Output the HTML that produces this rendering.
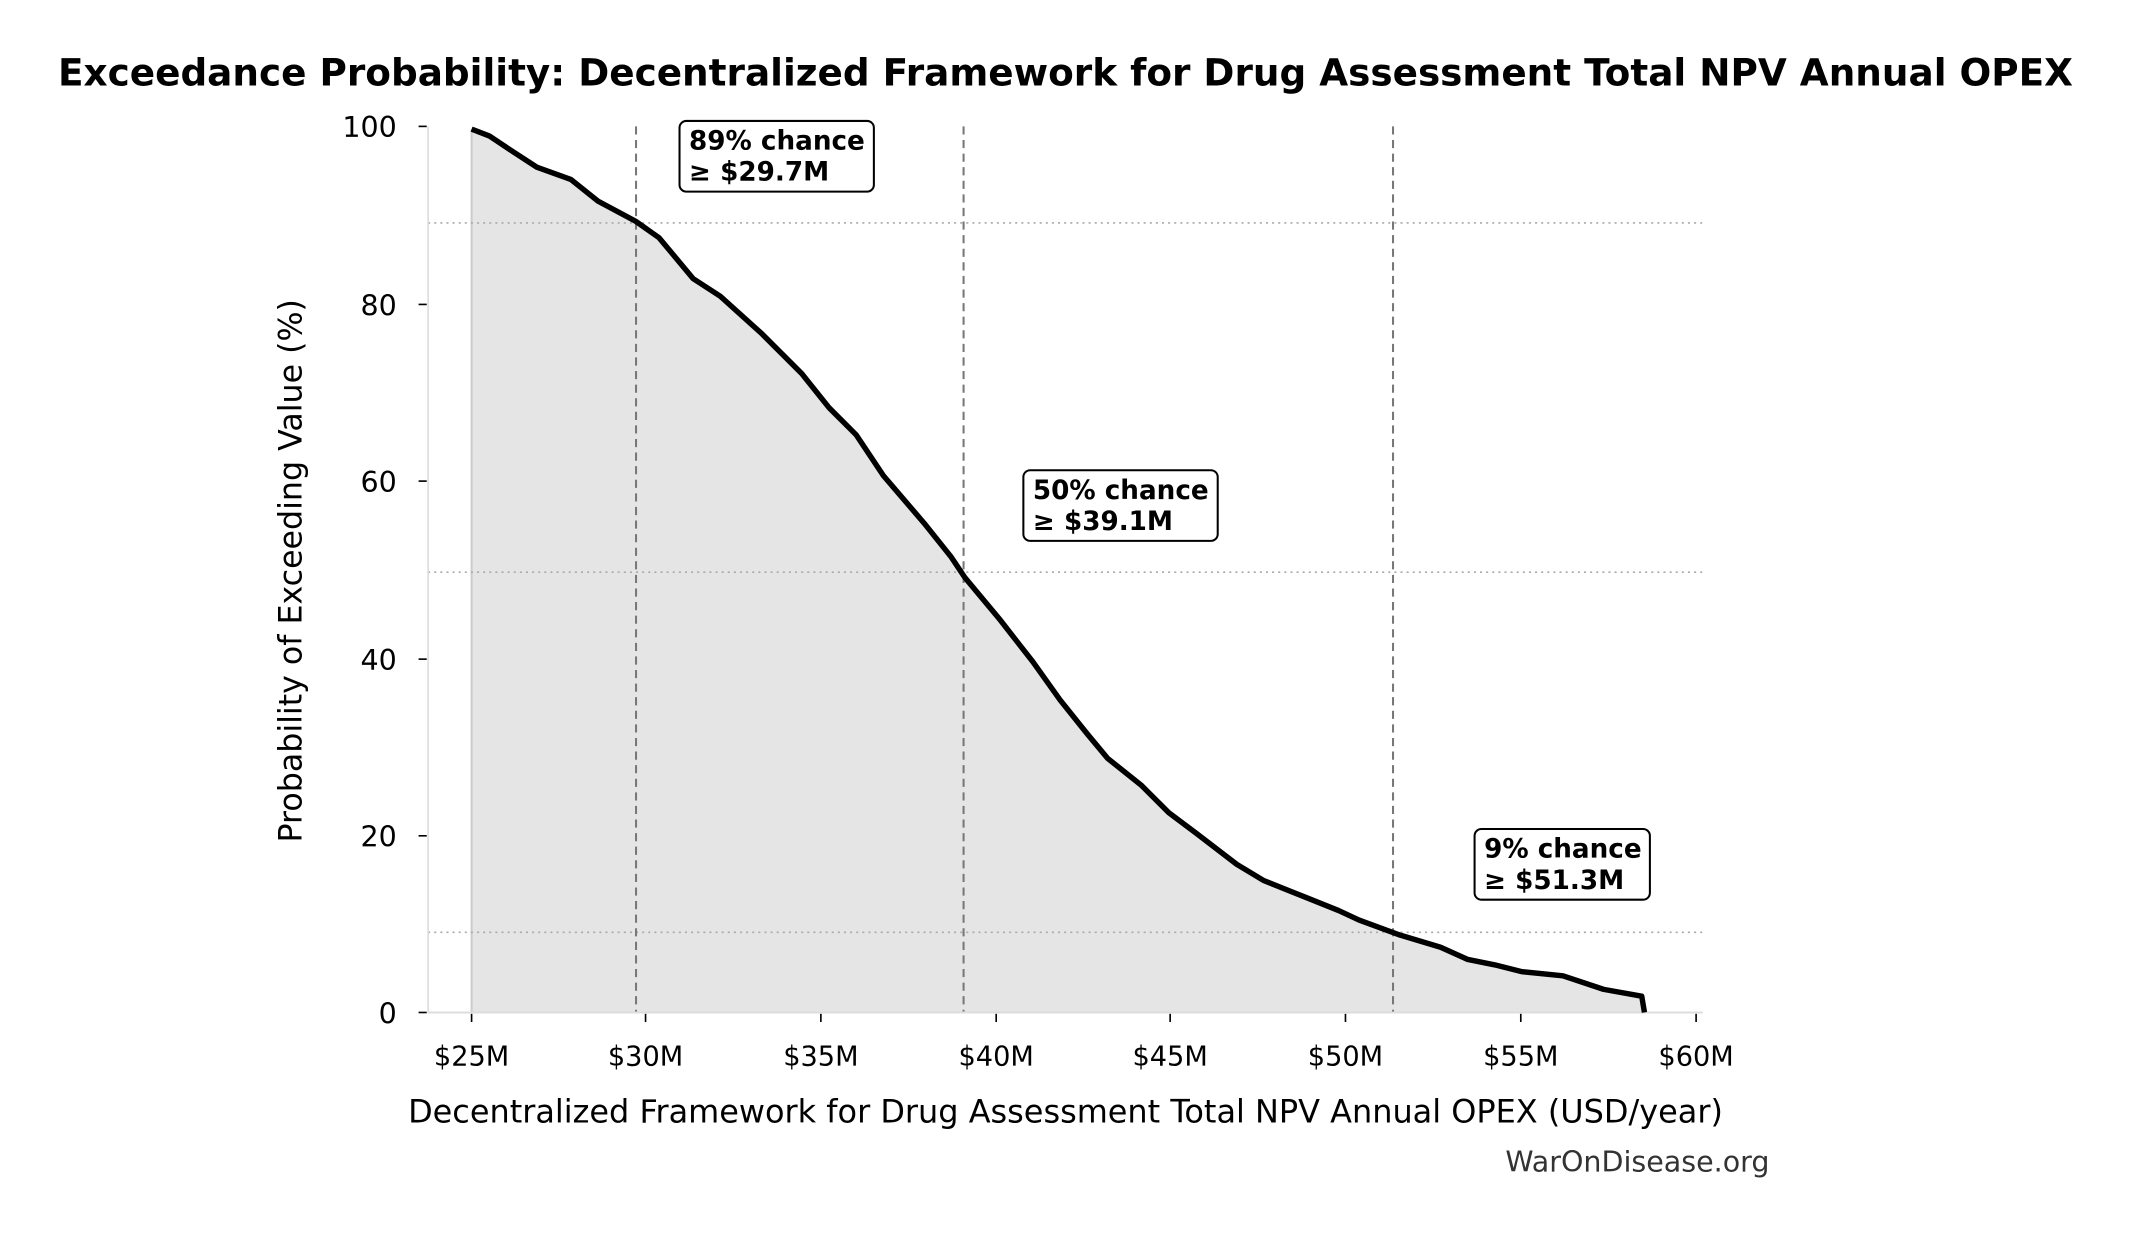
<!DOCTYPE html>
<html><head><meta charset="utf-8"><style>html,body{margin:0;padding:0;background:#fff}svg{display:block}</style></head>
<body>
<svg width="2131" height="1234" viewBox="0 0 1568 908" preserveAspectRatio="none" xmlns="http://www.w3.org/2000/svg" font-family="'DejaVu Sans','Liberation Sans',sans-serif">
<rect width="1568" height="908" fill="#fff"/>
<text x="784" y="63" font-size="27.5" font-weight="bold" text-anchor="middle">Exceedance Probability: Decentralized Framework for Drug Assessment Total NPV Annual OPEX</text>
<path d="M347,95 L360,100 L375,110 L395,123 L420,132 L440,148 L468,163 L485,175 L510,205 L530,218 L560,245 L590,275 L610,300 L630,320 L650,350 L680,385 L700,410 L710,425 L735,455 L760,487 L780,515 L800,540 L815,558 L840,578 L860,598 L880,613 L910,636 L930,648 L960,660 L985,670 L1000,677 L1030,688 L1060,697 L1080,706 L1100,710 L1120,715 L1150,718 L1180,728 L1208,733 L1210,745 L347,745 Z" fill="#e5e5e5"/>
<line x1="347" y1="95" x2="347" y2="745" stroke="#ccc" stroke-width="1.5"/>
<g stroke="#aaa" stroke-width="1.2" stroke-dasharray="1.5,3">
<line x1="315" y1="164" x2="1253" y2="164"/>
<line x1="315" y1="421" x2="1253" y2="421"/>
<line x1="315" y1="686" x2="1253" y2="686"/>
</g>
<g stroke="#777" stroke-width="1.5" stroke-dasharray="6,4">
<line x1="468" y1="93" x2="468" y2="745"/>
<line x1="709" y1="93" x2="709" y2="745"/>
<line x1="1025" y1="93" x2="1025" y2="745"/>
</g>
<line x1="315" y1="93" x2="315" y2="745" stroke="#ddd" stroke-width="1.2"/>
<line x1="315" y1="745" x2="1253" y2="745" stroke="#ddd" stroke-width="1.5"/>
<path d="M347,95 L360,100 L375,110 L395,123 L420,132 L440,148 L468,163 L485,175 L510,205 L530,218 L560,245 L590,275 L610,300 L630,320 L650,350 L680,385 L700,410 L710,425 L735,455 L760,487 L780,515 L800,540 L815,558 L840,578 L860,598 L880,613 L910,636 L930,648 L960,660 L985,670 L1000,677 L1030,688 L1060,697 L1080,706 L1100,710 L1120,715 L1150,718 L1180,728 L1208,733 L1210,745" fill="none" stroke="#000" stroke-width="4" stroke-linejoin="round"/>
<g stroke="#000" stroke-width="1.2">
<line x1="308" y1="93" x2="314" y2="93"/><line x1="308" y1="224" x2="314" y2="224"/><line x1="308" y1="354" x2="314" y2="354"/><line x1="308" y1="485" x2="314" y2="485"/><line x1="308" y1="615" x2="314" y2="615"/><line x1="308" y1="745" x2="314" y2="745"/>
</g>
<g font-size="21" text-anchor="end">
<text x="292" y="101">100</text><text x="292" y="232">80</text><text x="292" y="362">60</text><text x="292" y="493">40</text><text x="292" y="623">20</text><text x="292" y="753">0</text>
</g>
<g stroke="#000" stroke-width="1.2">
<line x1="347" y1="746" x2="347" y2="752"/><line x1="475" y1="746" x2="475" y2="752"/><line x1="604" y1="746" x2="604" y2="752"/><line x1="733" y1="746" x2="733" y2="752"/><line x1="861" y1="746" x2="861" y2="752"/><line x1="990" y1="746" x2="990" y2="752"/><line x1="1119" y1="746" x2="1119" y2="752"/><line x1="1248" y1="746" x2="1248" y2="752"/>
</g>
<g font-size="20" text-anchor="middle">
<text x="347" y="784">$25M</text><text x="475" y="784">$30M</text><text x="604" y="784">$35M</text><text x="733" y="784">$40M</text><text x="861" y="784">$45M</text><text x="990" y="784">$50M</text><text x="1119" y="784">$55M</text><text x="1248" y="784">$60M</text>
</g>
<text x="784" y="826" font-size="23.5" text-anchor="middle">Decentralized Framework for Drug Assessment Total NPV Annual OPEX (USD/year)</text>
<text transform="translate(222,420) rotate(-90)" font-size="23.3" text-anchor="middle">Probability of Exceeding Value (%)</text>
<text x="1302" y="862" font-size="21" fill="#333" text-anchor="end">WarOnDisease.org</text>
<g font-size="19.3" font-weight="bold">
<rect x="500" y="89" width="143" height="52" rx="5" fill="#fff" stroke="#000" stroke-width="1.5"/>
<text x="507" y="110">89% chance</text><text x="507" y="133">≥ $29.7M</text>
<rect x="753" y="346" width="143" height="52" rx="5" fill="#fff" stroke="#000" stroke-width="1.5"/>
<text x="760" y="367">50% chance</text><text x="760" y="390">≥ $39.1M</text>
<rect x="1085" y="610" width="129" height="52" rx="5" fill="#fff" stroke="#000" stroke-width="1.5"/>
<text x="1092" y="631">9% chance</text><text x="1092" y="654">≥ $51.3M</text>
</g>
</svg>
</body></html>
